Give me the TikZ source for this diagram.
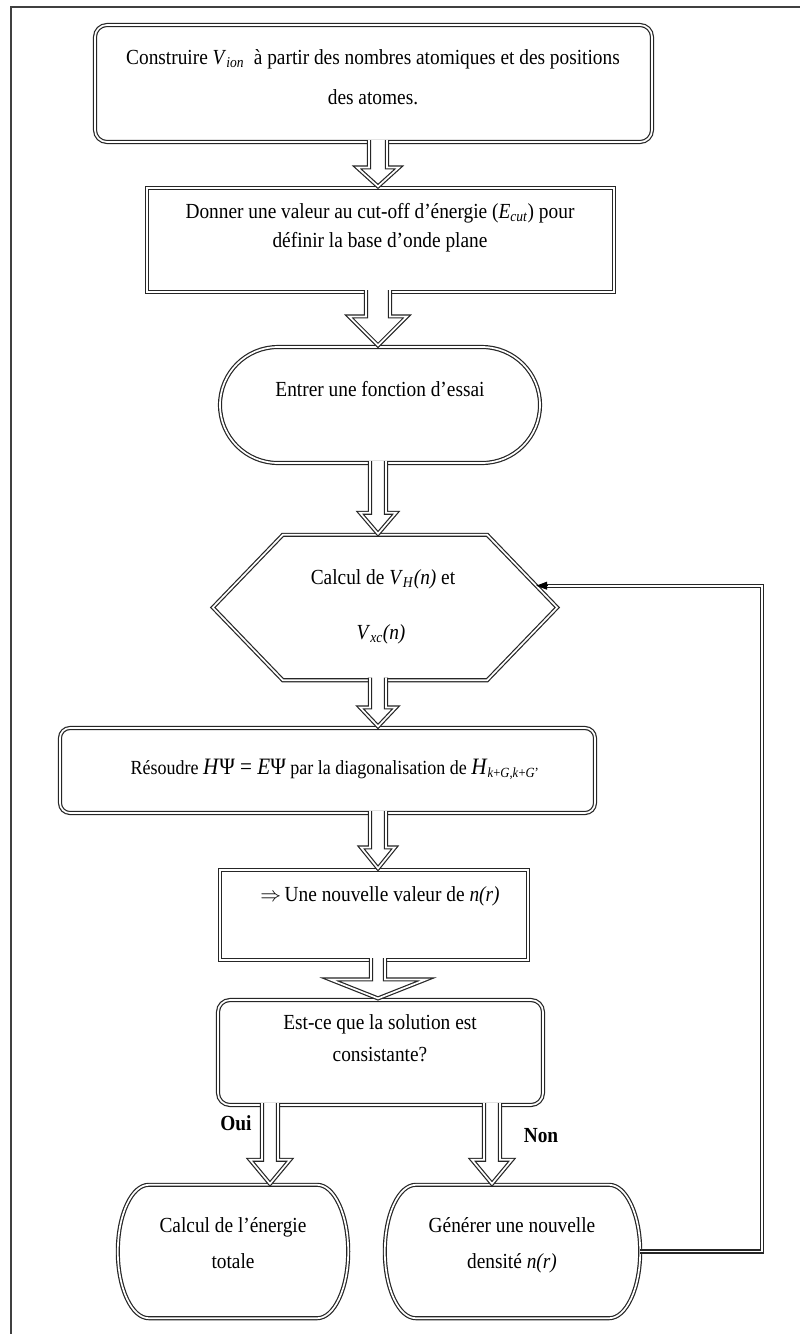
\documentclass[tikz,border=0pt]{standalone}
\usepackage{fontspec}
\setmainfont{Liberation Serif}[FakeStretch=0.9]
\usetikzlibrary{calc,shapes.misc,arrows.meta}
\tikzset{
  dbl/.style={draw=black!85, line width=1.2pt, double=white, double distance=1.7pt},
  txt/.style={inner sep=0pt, anchor=base, font=\fontsize{21.5}{24}\selectfont},
  lbl/.style={inner sep=0pt, anchor=base, font=\bfseries\fontsize{21.5}{24}\selectfont},
  box/.style={dbl, fill=white, inner sep=0pt},
  frame/.style={inner sep=0pt},
}
\newcommand\harrow[5]{%
  \draw[dbl, fill=white] let \p1=(#1), \p2=(#2) in
    (\x2-#3*0.5pt, \y1+2.5pt) -- (\x2-#3*0.5pt, \y2+#5*1pt) -- (\x2-#4*0.5pt, \y2+#5*1pt)
    -- (\x2, \y2+1pt) -- (\x2+#4*0.5pt, \y2+#5*1pt) -- (\x2+#3*0.5pt, \y2+#5*1pt)
    -- (\x2+#3*0.5pt, \y1+2.5pt);}
\newcommand\bulgebox[1]{%
  \draw[box] ($(#1.north west)+(31,0)$) -- ($(#1.north east)+(-31,0)$)
    .. controls ($(#1.north east)+(-14,0)$) and ($(#1.east)+(0,-37)$) .. (#1.east)
    .. controls ($(#1.east)+(0,37)$) and ($(#1.south east)+(-14,0)$) .. ($(#1.south east)+(-31,0)$)
    -- ($(#1.south west)+(31,0)$)
    .. controls ($(#1.south west)+(14,0)$) and ($(#1.west)+(0,37)$) .. (#1.west)
    .. controls ($(#1.west)+(0,-37)$) and ($(#1.north west)+(14,0)$) .. cycle;}
\begin{document}
\begin{tikzpicture}[x=1pt,y=-1pt]
\useasboundingbox (0,0) rectangle (800,1334);
\fill[white] (0,0) rectangle (800,1334);
\draw[black!75, line width=2pt] (11,1334) -- (11,7) -- (800,7);

% boxes
\node[box, rounded corners=12pt, minimum width=557, minimum height=117] (b1) at (373.5,83.5) {};
\node[box, minimum width=467, minimum height=104] (b2) at (380.5,240) {};
\node[box, rounded rectangle, minimum width=320, minimum height=116] (ent) at (380,405) {};
\node[frame, minimum width=344, minimum height=145] (hex) at (385,607.5) {};
\draw[box] (hex.west) -- ($(hex.north west)+(70,0)$) -- ($(hex.north east)+(-70,0)$)
  -- (hex.east) -- ($(hex.south east)+(-70,0)$) -- ($(hex.south west)+(70,0)$) -- cycle;
\node[box, rounded corners=10pt, minimum width=535, minimum height=85] (res) at (327.5,770.5) {};
\node[box, minimum width=308, minimum height=90] (nv) at (374,915) {};
\node[box, rounded corners=12pt, minimum width=325, minimum height=105] (est) at (380.5,1052.5) {};
\node[frame, minimum width=230, minimum height=133] (cal) at (233,1251.5) {};
\node[frame, minimum width=255, minimum height=133] (gen) at (512.5,1251.5) {};
\bulgebox{cal}
\bulgebox{gen}

% texts
\node[txt] (t1a) at (373,64) {Construire \textit{V}\textsubscript{\textit{ion}}\ \ à partir des nombres atomiques et des positions};
\node[txt] (t1b) at (373,104) {des atomes.};
\node[txt] (t2a) at (380,218) {Donner une valeur au cut-off d’énergie (\textit{E}\textsubscript{\textit{cut}}) pour};
\node[txt] (t2b) at (380,247) {définir la base d’onde plane};
\node[txt] (t3) at (380,396) {Entrer une fonction d'essai};
\node[txt] (t4a) at (383,584) {Calcul de \textit{V}\textsubscript{\textit{H}}\textit{(n)} et};
\node[txt] (t4b) at (381,639) {\textit{V}\textsubscript{\textit{xc}}\textit{(n)}};
\node[txt, font=\fontsize{20}{24}\selectfont] (t5) at (335,774) {Résoudre {\fontsize{23.5}{24}\selectfont\textit{H}Ψ = \textit{E}Ψ} par la diagonalisation de {\fontsize{23.5}{24}\selectfont\textit{H}}\textsubscript{\textit{k}+\textit{G},\textit{k}+\textit{G}'}};
\node[txt] (t6) at (380,901) {$\Rightarrow$\,Une nouvelle valeur de \textit{n(r)}};
\node[txt] (t7a) at (380,1029) {Est-ce que la solution est};
\node[txt] (t7b) at (380,1061) {consistante?};
\node[txt] (t8a) at (233,1232) {Calcul de l'énergie};
\node[txt] (t8b) at (233,1268) {totale};
\node[txt] (t9a) at (512,1232) {Générer une nouvelle};
\node[txt] (t9b) at (512,1268) {densité \textit{n(r)}};
\node[lbl] (oui) at (236,1130) {Oui};
\node[lbl] (non) at (541,1142) {Non};

% hollow arrows
\coordinate (axis) at (378,0);
\coordinate (ouix) at (270,0);
\coordinate (nonx) at (492,0);
\harrow{b1.south -| axis}{b2.north -| axis}{18}{42}{20}
\harrow{b2.south -| axis}{ent.north -| axis}{24}{58}{30}
\harrow{ent.south -| axis}{hex.north -| axis}{16}{36}{22}
\harrow{hex.south -| axis}{res.north -| axis}{16}{36}{20}
\harrow{res.south -| axis}{nv.north -| axis}{16}{34}{22}
\harrow{nv.south -| axis}{est.north -| axis}{14}{96}{20}
\harrow{est.south -| ouix}{cal.north -| ouix}{16}{40}{25}
\harrow{est.south -| nonx}{gen.north -| nonx}{16}{40}{25}

% feedback loop
\coordinate (fbx) at (762,0);
\coordinate (fbin) at ($(hex.east)!0.3!($(hex.north east)+(-70,0)$)$);
\draw[dbl] (gen.east) -| (fbx |- fbin) -- ([xshift=10pt]fbin);
\draw[black, line width=0.9pt, -{Triangle[length=11pt,width=8pt]}] ([xshift=12pt]fbin) -- (fbin);
\end{tikzpicture}
\end{document}
